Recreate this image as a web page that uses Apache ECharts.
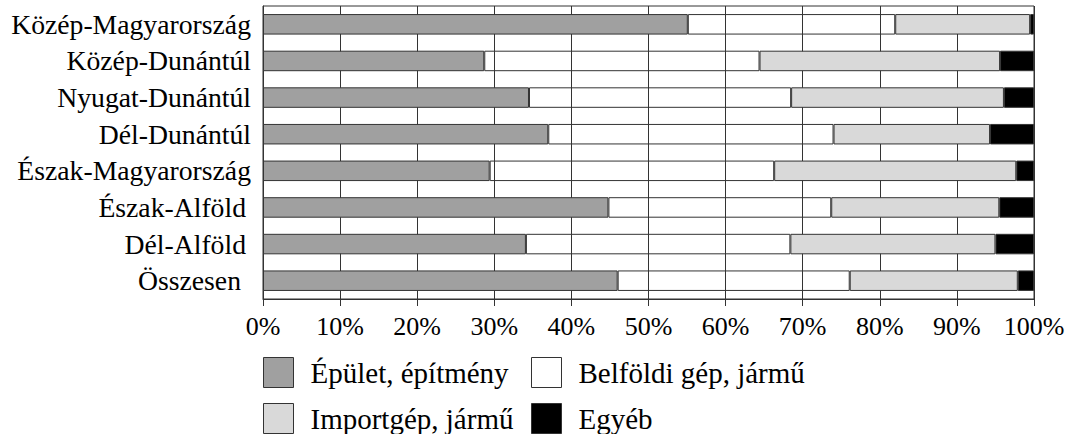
<!DOCTYPE html>
<html>
<head>
<meta charset="utf-8">
<script src="https://cdn.jsdelivr.net/npm/echarts@6/dist/echarts.min.js"></script>
<style>
html,body{margin:0;padding:0;background:#fff;}
#chart{width:1075px;height:434px;}
</style>
</head>
<body>
<div id="chart"></div>
<script>
const categories = ['Közép-Magyarország','Közép-Dunántúl','Nyugat-Dunántúl','Dél-Dunántúl','Észak-Magyarország','Észak-Alföld','Dél-Alföld','Összesen'];
const seriesNames = ['Épület, építmény','Belföldi gép, jármű','Importgép, jármű','Egyéb'];
const epulet   = [55.1, 28.7, 34.5, 37.0, 29.4, 44.8, 34.1, 46.0];
const belfoldi = [26.9, 35.7, 34.0, 37.0, 36.9, 28.9, 34.3, 30.1];
const import_  = [17.5, 31.2, 27.6, 20.3, 31.4, 21.8, 26.6, 21.8];
const egyeb    = [0.5, 4.4, 3.9, 5.7, 2.3, 4.5, 5.0, 2.1];
const xTicks = [0,10,20,30,40,50,60,70,80,90,100];

const FONT = 'Liberation Serif';
const LINE = '#333';
const colors = ['#a0a0a0','none','#d9d9d9','#000000'];
const legendColors = ['#a0a0a0','#ffffff','#d9d9d9','#000000'];
const values = [epulet, belfoldi, import_, egyeb];

const chart = echarts.init(document.getElementById('chart'), null, {renderer:'svg'});
const series = seriesNames.map((n,i)=>{
  const s = {
    name:n, type:'bar', stack:'total', barWidth:20.5,
    z: i===1 ? 2 : 7,
    showBackground:false,
    data: values[i],
    itemStyle:{color:colors[i], borderColor:LINE, borderWidth:1},
    emphasis:{disabled:true}
  };
  if (i===1) {
    s.markLine = {
      silent:true, z:5, symbol:['none','none'], animation:false,
      label:{show:false},
      lineStyle:{color:LINE, width:1, type:'solid'},
      data: xTicks.map(v=>({xAxis:v}))
    };
  }
  return s;
});
const legendPos = [[263,357],[531,357],[263,403],[531,403]];
const legends = seriesNames.map((n,i)=>({
  data:[{name:n, itemStyle:{color:legendColors[i], borderColor:LINE, borderWidth:1}}],
  left:legendPos[i][0], top:legendPos[i][1], padding:0,
  itemWidth:30, itemHeight:30, icon:'rect', selectedMode:false,
  textStyle:{fontFamily:FONT, fontSize:29, color:'#000', padding:[0,0,0,12]}
}));
const labelRight = {'Észak-Alföld':5, 'Dél-Alföld':5, 'Összesen':10};
chart.setOption({
  animation:false,
  backgroundColor:'#fff',
  grid:{left:263, right:41, top:6, bottom:135, show:true, borderColor:LINE, borderWidth:1, containLabel:false},
  legend: legends,
  xAxis:{type:'value', min:xTicks[0], max:xTicks[xTicks.length-1], interval:xTicks[1]-xTicks[0],
    axisLine:{show:true, lineStyle:{color:LINE, width:1}},
    axisTick:{show:true, length:7, lineStyle:{color:LINE}},
    axisLabel:{formatter:'{value}%', fontFamily:FONT, fontSize:26, color:'#000', margin:14},
    splitLine:{show:true, lineStyle:{color:LINE, width:1}}
  },
  yAxis:{type:'category', data:categories, inverse:true,
    axisLine:{show:true, lineStyle:{color:LINE}},
    axisTick:{show:false},
    axisLabel:{fontFamily:FONT, fontSize:27.7, color:'#000', margin:12,
      formatter: v => labelRight[v] ? '{p' + labelRight[v] + '|' + v + '}' : v,
      rich:{
        p5:{fontFamily:FONT, fontSize:27.7, color:'#000', padding:[0,5,0,0]},
        p10:{fontFamily:FONT, fontSize:27.7, color:'#000', padding:[0,10,0,0]}
      }
    }
  },
  series: series
});
</script>
</body>
</html>
